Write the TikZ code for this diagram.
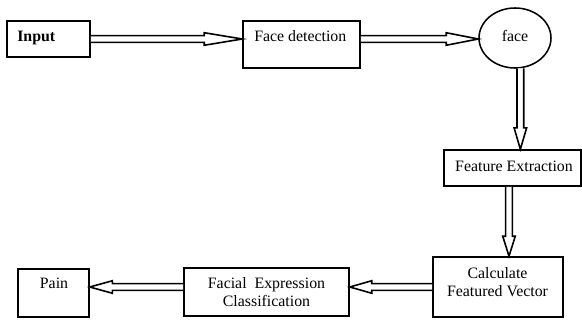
\documentclass[tikz,border=0pt]{standalone}
\usepackage{fontspec}
\setmainfont{Liberation Serif}
\usetikzlibrary{calc,shapes.geometric}

% hollow block arrow: #1 start point, #2 tip, #3 head length
\newcommand\blockarrow[3]{%
  \coordinate (baS) at (#1);
  \coordinate (baT) at (#2);
  \coordinate (baH) at ($(baT)!#3!(baS)$);
  \draw[arrowline]
    ($(baS)!2.5pt!90:(baT)$) -- ($(baH)!2.5pt!90:(baT)$) --
    ($(baH)!4.7pt!90:(baT)$) -- (baT) --
    ($(baH)!4.7pt!-90:(baT)$) -- ($(baH)!2.5pt!-90:(baT)$) --
    ($(baS)!2.5pt!-90:(baT)$);
}

\begin{document}
\begin{tikzpicture}[x=0.75pt,y=-0.75pt,
  font=\fontsize{11.9}{13.5}\selectfont,
  box/.style={draw=black,line width=1.15pt,rectangle,inner sep=0pt,fill=white},
  lbl/.style={inner sep=0pt,anchor=base},
  arrowline/.style={draw=black,line width=1.2pt,fill=white,line join=miter}]
\useasboundingbox (0,0) rectangle (582,320);

% boxes
\node[box,minimum width=62.25pt,minimum height=27pt] (in) at (48.5,39) {};
\node[box,minimum width=87.75pt,minimum height=35.25pt] (fd) at (301.5,44.5) {};
\node[box,ellipse,minimum width=54pt,minimum height=45pt] (face) at (515,38)
  {\raisebox{3.75pt}{face}};
\node[box,minimum width=102.75pt,minimum height=27pt] (fe) at (512.5,168) {};
\node[box,minimum width=97.5pt,minimum height=45pt] (cv) at (498,287) {};
\node[box,minimum width=123.75pt,minimum height=36pt] (fec) at (266.5,292) {};
\node[box,minimum width=53.25pt,minimum height=36pt] (pain) at (53.5,293) {};

% texts
\node[lbl,anchor=base west] (inT) at (17,42) {\bfseries Input};
\node[lbl,anchor=base west] (fdT) at (254,42) {Face detection};
\node[lbl] (feT) at (514,172) {Feature Extraction};
\node[lbl] (cvT1) at (497.5,279) {Calculate};
\node[lbl] (cvT2) at (497.5,297) {Featured Vector};
\node[lbl] (fecT1) at (266.5,289) {Facial\ \ Expression};
\node[lbl] (fecT2) at (266.5,307) {Classification};
\node[lbl] (painT) at (54,289) {Pain};

% connectors
\blockarrow{in.east}{in.east -| fd.west}{28.5pt}
\blockarrow{in.east -| fd.east}{in.east -| face.west}{24pt}
\blockarrow{face.-80}{face.-80 |- fe.north}{16pt}
\coordinate (feOut) at ($(fe.south)+(-3.5,0)$);
\blockarrow{feOut}{feOut |- cv.north}{15pt}
\blockarrow{cv.west}{cv.west -| fec.east}{16.5pt}
\blockarrow{cv.west -| fec.west}{cv.west -| pain.east}{17pt}
\end{tikzpicture}
\end{document}
